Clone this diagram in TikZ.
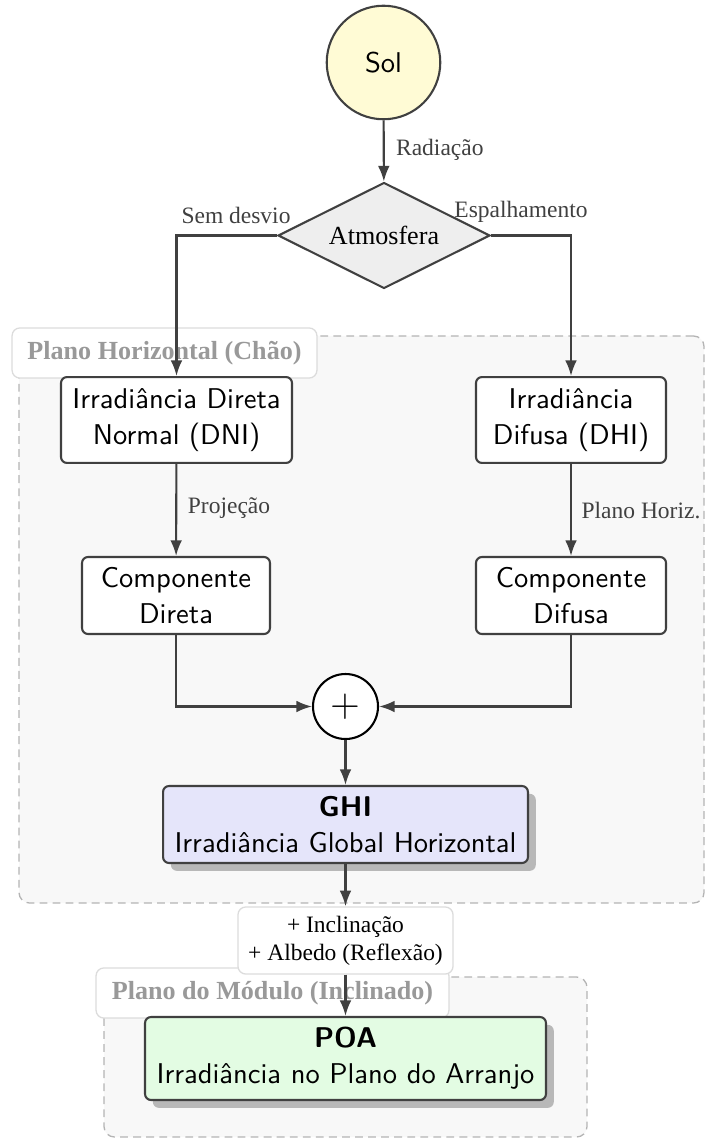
\documentclass[tikz,border=0pt]{standalone}
\usepackage{fontspec}
\setmainfont{Liberation Serif}
\usetikzlibrary{shapes.geometric, fit, shadows, arrows.meta}

\definecolor{edgegray}{HTML}{404040}
\definecolor{sunfill}{HTML}{FFFBD5}
\definecolor{atmfill}{HTML}{EEEEEE}
\definecolor{ghifill}{HTML}{E5E5FA}
\definecolor{poafill}{HTML}{E3FCE3}
\definecolor{zonefill}{HTML}{F8F8F8}
\definecolor{zoneline}{HTML}{B4B4B4}
\definecolor{tagline}{HTML}{DCDCDC}
\definecolor{tagtext}{HTML}{999999}

\newcommand\flowfont{\fontsize{10.95}{13.8}\selectfont\sffamily}
\newcommand\lblfont{\fontsize{9}{10.8}\selectfont}
\newcommand\atmfont{\fontsize{10}{12}\selectfont}
\newcommand\zonefont{\fontsize{10}{12}\selectfont\bfseries}
\newcommand\plusfont{\fontsize{15}{16}\selectfont\sffamily}

\tikzset{
  box/.style={draw=edgegray, line width=0.8pt, rounded corners=2.3pt, fill=white,
    inner sep=0pt, align=center, font=\flowfont},
  arr/.style={draw=edgegray, line width=0.8pt, -{Latex[length=6pt,width=4.5pt]}},
  lbl/.style={font=\lblfont, text=edgegray, inner sep=1pt},
  zone/.style={draw=zoneline, dash pattern=on 3pt off 2pt, fill=zonefill,
    rounded corners=4pt, line width=0.5pt, inner sep=0pt},
  zonetag/.style={draw=tagline, fill=white, rounded corners=3pt, line width=0.5pt,
    inner sep=0pt, minimum height=19.2pt, font=\zonefont, text=tagtext},
  notebox/.style={draw=tagline, fill=white, rounded corners=3pt, line width=0.5pt,
    inner sep=0pt, align=center, font=\lblfont, text=black},
  shade/.style={drop shadow={shadow xshift=3pt, shadow yshift=-3pt, fill=black!28, opacity=1}}
}

\begin{document}
\begin{tikzpicture}[x=0.3831pt, y=-0.3831pt]
\useasboundingbox (0,0) rectangle (705,1139);

% planes
\node[zone, fit={(19,336) (704,903)}] (zh) {};
\node[zone, fit={(104,977) (587,1137)}] (zm) {};
\node[zonetag, minimum width=116.8pt] (th) at (164.5,353) {Plano Horizontal (Chão)};
\node[zonetag, minimum width=135.2pt] (tm) at (272.5,993) {Plano do Módulo (Inclinado)};

% source and atmosphere
\node[circle, draw=edgegray, line width=0.8pt, fill=sunfill, minimum size=43.5pt,
  inner sep=0pt, font=\flowfont] (sol) at (383.5,62.5) {Sol};
\node[diamond, aspect=2, draw=edgegray, line width=0.8pt, fill=atmfill,
  minimum width=81.2pt, minimum height=40.6pt, inner sep=0pt, font=\atmfont]
  (atm) at (384,235.5) {Atmosfera};

% horizontal-plane components
\node[box, minimum width=88.5pt, minimum height=32.9pt] (dni) at (176.5,420)
  {Irradiância Direta\\Normal (DNI)};
\node[box, minimum width=72.8pt, minimum height=32.9pt] (dhi) at (571,420)
  {Irradiância\\Difusa (DHI)};
\node[box, minimum width=72.0pt, minimum height=29.5pt] (cdir) at (176,595.5)
  {Componente\\Direta};
\node[box, minimum width=72.8pt, minimum height=29.5pt] (cdif) at (571,595.5)
  {Componente\\Difusa};
\node[circle, draw=black, line width=0.8pt, fill=white, minimum size=24.9pt,
  inner sep=0pt, font=\plusfont] (plus) at (345.5,706.5) {+};
\node[box, fill=ghifill, shade, minimum width=139.8pt, minimum height=29.5pt]
  (ghi) at (345.5,824.5) {\textbf{GHI}\\Irradiância Global Horizontal};

% transposition to the module plane
\node[notebox, minimum width=82.4pt, minimum height=25.7pt] (tilt) at (345.5,940.5)
  {+ Inclinação\\+ Albedo (Reflexão)};
\node[box, fill=poafill, shade, minimum width=153.6pt, minimum height=31.8pt]
  (poa) at (345.5,1058.5) {\textbf{POA}\\Irradiância no Plano do Arranjo};

% connectors
\draw[arr] (sol) -- (atm);
\draw[arr] (atm.west) -| (dni.north);
\draw[arr] (atm.east) -| (dhi.north);
\draw[arr] (dni) -- (cdir);
\draw[arr] (dhi) -- (cdif);
\draw[arr] (cdir.south) |- (plus.west);
\draw[arr] (cdif.south) |- (plus.east);
\draw[arr] (plus) -- (ghi);
\draw[arr] (ghi) -- (tilt);
\draw[arr] (tilt) -- (poa);

% connector labels
\node[lbl, anchor=west] (lrad) at (393,150) {Radiação};
\node[lbl] (lsem) at (236,215) {Sem desvio};
\node[lbl] (lesp) at (521,212) {Espalhamento};
\node[lbl] (lproj) at (229,508) {Projeção};
\node[lbl] (lhor) at (641,511) {Plano Horiz.};
\end{tikzpicture}
\end{document}
